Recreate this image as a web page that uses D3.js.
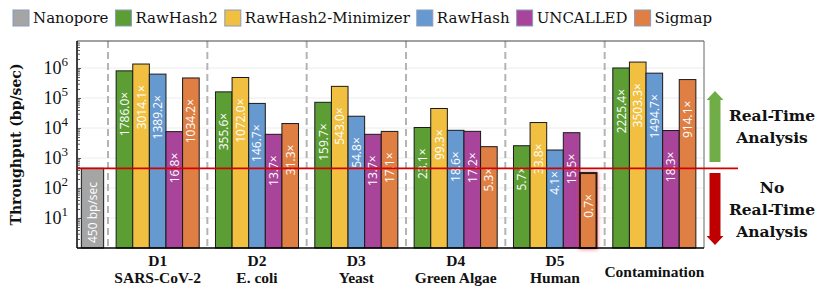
<!DOCTYPE html>
<html><head><meta charset="utf-8">
<script src="https://cdn.jsdelivr.net/npm/d3@7"></script>
<style>
body{margin:0;background:#fff;}
svg{display:block;}
</style></head>
<body><svg id="c" width="830" height="297"></svg>
<script>
// ---- data ----
const nanoporeThroughput = 450; // bp/sec
const groups = ["D1","D2","D3","D4","D5","Contamination"];
const groupSub = ["SARS-CoV-2","E. coli","Yeast","Green Algae","Human",""];
const tools = ["RawHash2","RawHash2-Minimizer","RawHash","UNCALLED","Sigmap"];
// speedups over nanopore throughput (x), per tool, per group
const rawhash2 = [1786.0, 355.6, 159.7, 23.1, 5.7, 2225.4];
const rawhash2Min = [3014.1, 1072.0, 543.0, 99.3, 33.8, 3503.3];
const rawhash = [1389.2, 146.7, 54.8, 18.6, 4.1, 1494.7];
const uncalled = [16.8, 13.7, 13.7, 17.2, 15.5, 18.3];
const sigmap = [1034.2, 31.3, 17.1, 5.3, 0.7, 914.1];
const speedLabels = [
  ["1786.0×","355.6×","159.7×","23.1×","5.7×","2225.4×"],
  ["3014.1×","1072.0×","543.0×","99.3×","33.8×","3503.3×"],
  ["1389.2×","146.7×","54.8×","18.6×","4.1×","1494.7×"],
  ["16.8×","13.7×","13.7×","17.2×","15.5×","18.3×"],
  ["1034.2×","31.3×","17.1×","5.3×","0.7×","914.1×"]
];
const legendNames = ["Nanopore","RawHash2","RawHash2-Minimizer","RawHash","UNCALLED","Sigmap"];
const yTickValues = [1e1,1e2,1e3,1e4,1e5,1e6];

// ---- style ----
const colors = {"Nanopore":"#a5a5a5","RawHash2":"#5c9e34","RawHash2-Minimizer":"#f1c040","RawHash":"#6699cf","UNCALLED":"#a8449a","Sigmap":"#e07f43"};
const series = [rawhash2, rawhash2Min, rawhash, uncalled, sigmap];

const svg = d3.select("#c");
const L = 77, R = 704, T = 41, B = 248, sepStart = 108;

const y = d3.scaleLog().domain([1, Math.pow(10,6.9)]).range([B, T]);
const x = d3.scaleBand().domain(groups).range([sepStart, R]).paddingInner(0).paddingOuter(0);
const xi = d3.scaleBand().domain(tools).range([0, x.bandwidth()]).paddingInner(0).paddingOuter(0.49);
const xn = d3.scaleBand().domain(["Nanopore"]).range([L, sepStart]).paddingOuter(0.2);

const defs = svg.append("defs");
const f = defs.append("filter").attr("id","glow").attr("x","-50%").attr("y","-50%").attr("width","200%").attr("height","200%");
f.append("feGaussianBlur").attr("in","SourceAlpha").attr("stdDeviation",2.2).attr("result","b");
f.append("feFlood").attr("flood-color","#ff3030").attr("flood-opacity",0.75);
f.append("feComposite").attr("in2","b").attr("operator","in").attr("result","g");
const fm = f.append("feMerge"); fm.append("feMergeNode").attr("in","g"); fm.append("feMergeNode").attr("in","SourceGraphic");

// gridlines
svg.append("g").selectAll("line").data(yTickValues).join("line")
  .attr("x1",L).attr("x2",R).attr("y1",d=>y(d)).attr("y2",d=>y(d))
  .attr("stroke","#ececec").attr("stroke-width",1);

// separators
const seps = groups.map(g=>x(g));
svg.append("g").selectAll("line").data(seps).join("line")
  .attr("x1",d=>d).attr("x2",d=>d).attr("y1",T).attr("y2",B)
  .attr("stroke","#b4b4b4").attr("stroke-width",2).attr("stroke-dasharray","7,4");

// frame top/right
svg.append("line").attr("x1",L).attr("x2",R).attr("y1",T).attr("y2",T).attr("stroke","#444").attr("stroke-width",1);
svg.append("line").attr("x1",R).attr("x2",R).attr("y1",T).attr("y2",B).attr("stroke","#666").attr("stroke-width",1);

// nanopore bar
svg.append("rect").attr("x",xn("Nanopore")).attr("width",xn.bandwidth())
  .attr("y",y(nanoporeThroughput)).attr("height",B-y(nanoporeThroughput))
  .attr("fill",colors["Nanopore"]).attr("stroke","#333").attr("stroke-width",1.2);
svg.append("text").attr("transform",`translate(${xn("Nanopore")+xn.bandwidth()/2},${B-5}) rotate(-90)`)
  .attr("dy","0.36em").attr("text-anchor","start").attr("fill","#fff")
  .attr("font-family","'Open Sans','Noto Sans',sans-serif").attr("font-size",12).text("450 bp/sec");

// tool bars
const barData = [];
tools.forEach((t,ti)=>groups.forEach((g,gi)=>{
  barData.push({tool:t, group:g, v:series[ti][gi]*nanoporeThroughput, label:speedLabels[ti][gi]});
}));
const gb = svg.append("g");
gb.selectAll("rect").data(barData).join("rect")
  .attr("x",d=>x(d.group)+xi(d.tool)).attr("width",xi.bandwidth())
  .attr("y",d=>y(d.v)).attr("height",d=>B-y(d.v))
  .attr("fill",d=>colors[d.tool])
  .attr("stroke","#1a1a1a")
  .attr("stroke-width",d=>d.v<nanoporeThroughput?2:1)
  .attr("filter",d=>d.v<nanoporeThroughput?"url(#glow)":null);
gb.selectAll("text").data(barData).join("text")
  .attr("transform",d=>`translate(${x(d.group)+xi(d.tool)+xi.bandwidth()/2},${y(d.v)+21}) rotate(-90)`)
  .attr("dy","0.37em").attr("text-anchor","end").attr("fill","#fff")
  .attr("font-family","'Open Sans','Noto Sans',sans-serif").attr("font-size",12)
  .text(d=>d.label);

// axes lines
svg.append("line").attr("x1",L).attr("x2",R).attr("y1",B).attr("y2",B).attr("stroke","#000").attr("stroke-width",1.5);
const yAxis = d3.axisRight(y).tickValues(y.ticks().filter(v=>v>=1 && v<=1e7)).tickSize(3).tickFormat("");
const ga = svg.append("g").attr("transform",`translate(${L},0)`).call(yAxis);
ga.select(".domain").attr("stroke","#000").attr("stroke-width",1.5).attr("d",`M0,${T}V${B}`);
ga.selectAll(".tick line").attr("stroke","#333").attr("stroke-width",0.8)
  .attr("x2",d=>Math.abs(Math.log10(d)-Math.round(Math.log10(d)))<1e-9?4:3);

// y tick labels
const tl = svg.append("g").selectAll("text").data(yTickValues).join("text")
  .attr("x",68).attr("y",d=>y(d)+6).attr("text-anchor","end")
  .attr("font-family","'Liberation Serif','DejaVu Serif',serif").attr("font-size",18).attr("fill","#111");
tl.append("tspan").text("10");
tl.append("tspan").attr("dy",-8).attr("font-size",13).text(d=>Math.round(Math.log10(d)));

// y title
svg.append("text").attr("transform",`translate(21,${(T+B)/2}) rotate(-90)`)
  .attr("text-anchor","middle").attr("font-family","'DejaVu Serif',serif").attr("font-weight","bold")
  .attr("font-size",14).attr("fill","#111").text("Throughput (bp/sec)");

// red threshold line
svg.append("line").attr("x1",L).attr("x2",738).attr("y1",y(nanoporeThroughput)).attr("y2",y(nanoporeThroughput))
  .attr("stroke","#d40000").attr("stroke-width",1.6);

// group labels
const gl = svg.append("g").attr("font-family","'Liberation Serif','DejaVu Serif',serif").attr("font-weight","bold").attr("font-size",15.5).attr("fill","#111").attr("text-anchor","middle");
groups.forEach((g,i)=>{
  const cx = x(g)+x.bandwidth()/2;
  if(groupSub[i]){
    gl.append("text").attr("x",cx).attr("y",266).text(g);
    gl.append("text").attr("x",cx).attr("y",283).text(groupSub[i]);
  } else {
    gl.append("text").attr("x",cx).attr("y",277).text(g);
  }
});

// legend
const lg = svg.append("g").attr("font-family","'DejaVu Serif',serif").attr("font-size",15).attr("fill","#111");
let lx = 13;
legendNames.forEach(n=>{
  lg.append("rect").attr("x",lx).attr("y",10).attr("width",16).attr("height",16)
    .attr("fill",colors[n]).attr("stroke","#8a9bbd").attr("stroke-width",1);
  const t = lg.append("text").attr("x",lx+20).attr("y",23).text(n);
  lx += 20 + t.node().getComputedTextLength() + 7;
});

// arrows
function arrow(cx, yTop, yBot, up, color){
  const sw = 5.5, hw = 8.5, hh = 9;
  let p;
  if(up){
    p = `M${cx-sw},${yBot}V${yTop+hh}H${cx-hw}L${cx},${yTop}L${cx+hw},${yTop+hh}H${cx+sw}V${yBot}Z`;
  } else {
    p = `M${cx-sw},${yTop}V${yBot-hh}H${cx-hw}L${cx},${yBot}L${cx+hw},${yBot-hh}H${cx+sw}V${yTop}Z`;
  }
  svg.append("path").attr("d",p).attr("fill",color);
}
arrow(715, 91, 162, true, "#70ad47");
arrow(715, 173, 245, false, "#c00000");

const at = svg.append("g").attr("font-family","'DejaVu Serif',serif").attr("font-weight","bold").attr("font-size",15.5).attr("fill","#111").attr("text-anchor","middle");
[["Real-Time",121],["Analysis",143],["No",193],["Real-Time",215],["Analysis",237]].forEach(([s,yy])=>{
  at.append("text").attr("x",772).attr("y",yy).text(s);
});
</script></body></html>
